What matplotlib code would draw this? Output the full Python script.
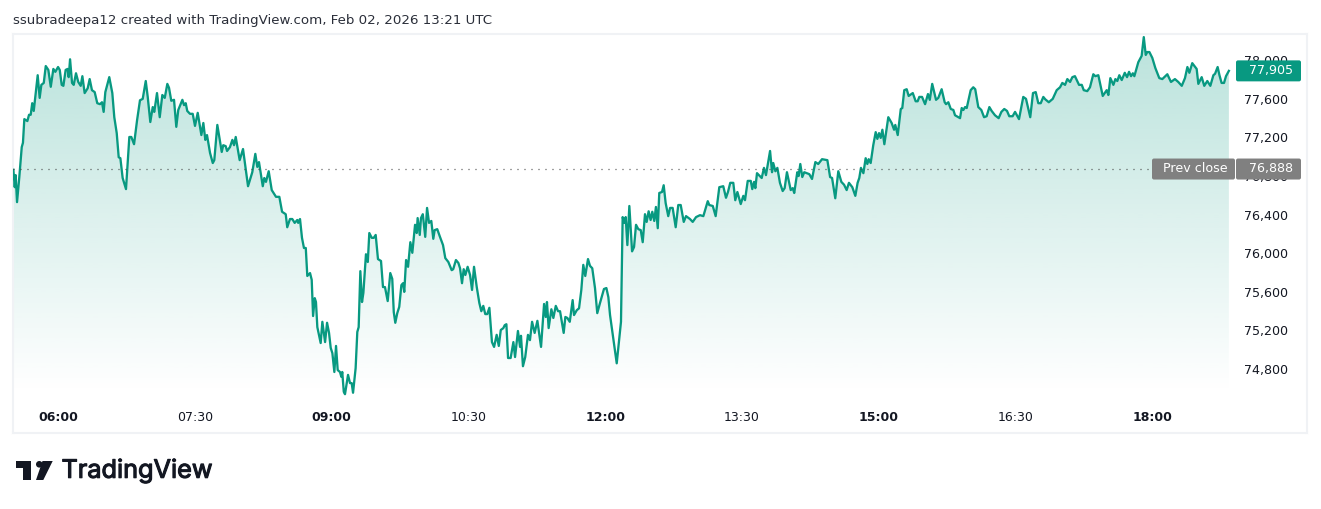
"""
Intraday area chart with a previous close marker, TradingView style.
"""

import numpy as np
import matplotlib
matplotlib.use("Agg")
import matplotlib.pyplot as plt
import matplotlib.patheffects as pe
from matplotlib.patches import FancyBboxPatch, Polygon, Circle
from matplotlib.transforms import ScaledTranslation

# (minutes since midnight, price)
quotes_open = [
    (330.6,76880),(331.5,76700),(332.1,76825),(333,76545),(334.5,76805),(336.1,77115),(336.9,77160),(337.8,77405),
    (339.8,77385),(340.9,77450),(342,77450),(343,77570),(344,77490),(345.3,77675),(346.6,77860),(347.9,77625),
    (349,77760),(350.6,77780),(351.9,77955),(353.6,77915),(355.2,77740),(356.9,77925),(358.2,77895),(360,77945),
    (361.1,77915),(362.4,77760),(363.5,77750),(365,77915),(366.3,77925),(367,77840),(367.9,78025),(369.2,77780),
    (370.3,77760),(371.8,77880),(373.3,77790),(374.9,77750),(376,77850),(377.5,77675),(379.5,77725),(380.8,77820),
    (382.3,77705),(384.1,77685),(385.8,77570),(387.6,77560),(388.9,77580),(390,77480),(391.1,77685),(393.7,77840),
    (395.7,77675),(397,77425),(398.6,77260),(399.9,77010),(401,77000),(402.5,76795),(404.7,76680),(406.9,77220),
    (408.2,77220),(410,77145),(412,77395),(413.9,77600),(415.7,77615),(417.7,77800),(419,77635),(420.7,77375),
    (422.3,77530),(423.3,77480),(425.1,77675),(426.9,77425),(428.6,77655),(430.2,77625),(431.9,77770),(433,77730),
    (434.5,77595),(436.3,77605),(437.8,77325),(439.1,77500),(441.8,77605),(442.9,77550),(444,77570),(445,77490),
    (446.8,77460),(448.6,77460),(450.1,77335),(451.9,77470),(454.3,77240),(455.6,77365),(456.9,77190),(458,77240),
    (460,77055),(461.8,76950),(462.8,76980),(464.8,77345),(467.7,77065),(468.7,77135),(470.3,77125),(471.2,77075),
    (473.1,77115),(474.7,77190),(475.8,77135),(476.9,77220),(479.5,76980),(481.7,77095),(485,76710),(487.8,76855),
    (489.8,77045),(491.1,76910),(492.2,76960),(494.7,76710),(495.7,76795),(496.8,76755),(498.6,76865),(500.6,76670),
    (503.4,76600),(505.6,76600),(507.4,76445),(509.8,76420),(510.8,76285),(512.6,76370),(514.1,76370),(515.7,76330),
    (517.4,76360),(518,76330),(519.2,76370),(520.5,76175),(521.8,76070),(523,76070),(524,75780),(525.8,75810),
    (526.9,75740),(527.8,75365),(528.9,75550),(529.7,75510),(530.6,75250),(532.8,75085),(533.9,75305),(535.7,75095),
    (537,75295),(538.3,75190),(539.4,75035),(540.5,74980),(541.8,74785),(542.9,75055),(544,74805),(545.5,74785),
    (546.4,74735),(547,74785),(548,74580),(548.8,74555),(550.8,74755),(552.1,74670),(553.2,74670),(554.1,74570),
]

quotes_rebound = [
    (555.8,74825),(556.9,75200),(557.8,75250),(558.9,75830),(560,75510),(560.9,75605),(562.6,76005),(563.8,75925),
    (564.8,76225),(566.4,76175),(567.7,76175),(569,76205),(570.5,75955),(572.5,75935),(573.8,75665),(575.1,75665),
    (576.9,75520),(578.6,75810),(579.9,75750),(580.9,75405),(581.9,75295),(583.2,75395),(584.5,75460),(585.9,75685),
    (587,75705),(587.8,75615),(589,75945),(590.3,75875),(591.8,76130),(593.1,76020),(594.9,76310),(596,76225),
    (596.6,76380),(598,76205),(598.8,76380),(600,76420),(601.6,76185),(602.8,76485),(604.1,76330),(605.6,76350),
    (606.9,76165),(607.8,76255),(609.5,76265),(611.3,76185),(613.3,76100),(614.8,75965),(616.8,75925),(619,75840),
    (620,75850),(621.8,75945),(623.4,75915),(624.5,75860),(625.8,75705),(626.9,75850),(628,75790),(629.5,75875),
    (631.1,75790),(632.4,75635),(633.7,75875),(635.5,75665),(637.2,75500),(638.5,75415),(639.8,75470),(641.1,75385),
    (642.4,75385),(643.8,75450),(645.5,75095),(646.9,75045),(648.6,75170),(650,75055),(651.3,75220),(653,75240),
    (653.9,75270),(655,75280),(656.1,74930),(657.8,74930),(659.6,75095),(660.7,74940),(662.6,75210),(664,75045),
    (664.6,75160),(665.9,74845),(667.4,74940),(669.2,75170),(670.5,75115),(671.9,75305),(673.6,75190),(675.4,75315),
    (677.8,75045),(679.8,75490),(680.9,75355),(681.7,75510),(682.8,75240),(684.6,75435),(685.9,75345),(687.5,75470),
    (689,75415),(690.3,75415),(692.7,75190),(693.8,75355),(695.1,75345),(696.7,75305),(698.6,75530),(699.5,75375),
    (701.3,75425),(702.8,75445),(704.3,75635),(705.6,75895),(706.9,75780),(708.7,75955),(710,75885),(711.5,75860),
    (713.3,75655),(714.8,75395),(716.6,75500),(719.2,75645),(720.8,75655),(722.1,75560),(723.2,75375),(727.6,74875),
    (730.4,75305),
]

quotes_midday = [
    (731.5,76390),(732.6,76330),(733.5,76390),(734.6,76100),(735.9,76505),(737.7,76035),(739,76080),(740.3,76310),
    (741.8,76265),(743.4,76255),(744.7,76130),(746.2,76420),(747.3,76340),(748.6,76450),(749.9,76360),(751,76445),
    (752.3,76350),(753.4,76495),(754.6,76275),(755.6,76640),(757.4,76650),(758.5,76720),(759.8,76535),(761.5,76400),
    (762.7,76485),(764.4,76485),(766.4,76285),(768.1,76515),(769.7,76515),(771.7,76340),(773.2,76400),(775.8,76370),
    (777.6,76340),(779.8,76390),(782.4,76410),(784.6,76400),(787.5,76555),(788.5,76515),(790.8,76505),(792.7,76400),
    (795.1,76700),(797.7,76710),(799.5,76590),(800.8,76650),(802.3,76745),(804.3,76745),(805.6,76565),(807,76650),
    (809.2,76525),(810.9,76610),(812,76565),(813.8,76765),(815.8,76765),(816.8,76680),(818,76755),(818.8,76690),
    (819.9,76845),(823,76795),(824.5,76900),(825.8,76825),(828.5,77075),(829.8,76855),(830.6,76950),(832,76865),
    (833.3,76900),(835,76745),(836.8,76660),(838.1,76690),(839.6,76855),(842.1,76670),(843.4,76690),(844.4,76640),
    (846.4,76855),(847.3,76815),(848.4,76940),(849.7,76805),(851,76855),(854.3,76835),(856.1,76785),(858.3,76960),
    (860.2,76940),(862.7,76990),(866.2,76980),(868,76805),(869.3,76795),(871.4,76585),(873.4,76865),(875.4,76755),
    (877.2,76725),(878.9,76670),(880.4,76745),(882.6,76700),(884.6,76610),(886.1,76745),(887.2,76795),
]

quotes_close = [
    (888.3,76900),(889.9,76845),(891.4,77000),(892.5,76940),(893.4,76990),(894.7,76950),(896.4,77135),(898,77270),
    (899.1,77200),(900.2,77260),(901.3,77210),(902.4,77295),(903.7,77145),(906.3,77425),(908.5,77365),(910.1,77295),
    (910.9,77345),(912.5,77240),(914.5,77510),(915.5,77520),(916.8,77705),(918.4,77715),(919.7,77645),(922.4,77675),
    (924.3,77590),(925.6,77590),(926.7,77635),(928.5,77635),(930.5,77560),(932.4,77665),(933.6,77605),(935.2,77770),
    (937.7,77605),(939.2,77625),(941.4,77715),(943.4,77580),(944.3,77560),(945.8,77580),(947.4,77510),(949.1,77500),
    (950.2,77445),(953.5,77415),(954.6,77520),(955.7,77500),(956.8,77530),(957.9,77520),(960.5,77705),(962.2,77735),
    (963.5,77715),(965.5,77530),(967.5,77500),(969.3,77425),(971,77435),(972.8,77530),(974.3,77490),(976.5,77445),
    (978.9,77415),(980.7,77480),(982.6,77510),(984.4,77490),(985.9,77435),(988.1,77435),(989.7,77480),(992.3,77405),
    (995.1,77635),(996.9,77615),(999.7,77425),(1001.5,77675),(1003.3,77685),(1005,77570),(1006.6,77570),(1008.3,77635),
    (1009.6,77610),(1011.9,77580),(1014.5,77615),(1017.1,77705),(1019.3,77735),(1020.8,77780),(1022.6,77760),(1024.1,77820),
    (1025.9,77790),(1027.4,77840),(1029.1,77850),(1031.8,77760),(1033.6,77760),(1034.9,77705),(1037.2,77695),(1039,77735),
    (1041.2,77870),(1042.5,77850),(1044.5,77860),(1047.4,77645),(1050,77705),(1051.1,77655),(1052.4,77830),(1054.4,77760),
    (1055.7,77820),(1057,77800),(1058.3,77860),(1059.9,77810),(1061.9,77885),(1063.4,77840),(1064.7,77895),(1066,77850),
    (1067.2,77880),(1068.2,77850),(1070.8,77995),(1073,78060),(1074.4,78255),(1075.7,78070),(1076.7,78100),(1078.1,78100),
    (1080,78040),(1082,77935),(1084.6,77830),(1086.6,77820),(1089.9,77870),(1092.3,77790),(1094.9,77820),(1097.1,77790),
    (1099.4,77750),(1101.5,77830),(1103.1,77945),(1104.4,77885),(1106.3,77985),(1109.2,77925),(1110.3,77770),(1112.5,77840),
    (1114.2,77750),(1116.2,77800),(1118.2,77750),(1120.2,77860),(1121.3,77875),(1123,77945),(1124.2,77860),(1125.6,77780),
    (1127.2,77780),(1128.5,77850),(1130.4,77905),
]

prev_close = 76888
last_price = 77905

x_ticks = [360, 450, 540, 630, 720, 810, 900, 990, 1080]
x_labels = ["06:00", "07:30", "09:00", "10:30", "12:00", "13:30", "15:00", "16:30", "18:00"]
x_major = ["06:00", "09:00", "12:00", "15:00", "18:00"]
y_ticks = [74800, 75200, 75600, 76000, 76400, 76800, 77200, 77600, 78000]

GREEN = "#089981"
GREY = "#808080"
INK = "#131722"
W, H = 1321, 509


def to_px_y(ax, value):
    """Return the height of a price in top-down figure pixels."""
    return H - ax.transData.transform((0, value))[1]


def main():
    quotes = quotes_open + quotes_rebound + quotes_midday + quotes_close
    times = np.array([q[0] for q in quotes])
    prices = np.array([q[1] for q in quotes])

    plt.rcParams["font.family"] = "DejaVu Sans"
    fig = plt.figure(figsize=(W / 100, H / 100), dpi=100, facecolor="white")

    # panel goes from x=13 to 1307 and y=34 to 433 in pixels
    ax = fig.add_axes([13 / W, 1 - 433 / H, 1294 / W, 399 / H])
    for spine in ax.spines.values():
        spine.set_color("#f0f2f5")
        spine.set_linewidth(1.5)

    # area under the line fading out to the bottom
    gradient = np.zeros((256, 1, 4))
    gradient[..., :3] = matplotlib.colors.to_rgb(GREEN)
    gradient[..., 3] = np.linspace(0.28, 0.0, 256)[:, None]
    low = prices.min()
    im = ax.imshow(gradient, extent=[times[0], times[-1], low, prices.max()],
                   aspect="auto", origin="upper", zorder=1, interpolation="bilinear")
    outline = np.column_stack([np.r_[times, times[-1], times[0]], np.r_[prices, low, low]])
    clip = Polygon(outline, closed=True, transform=ax.transData, facecolor="none", edgecolor="none")
    ax.add_patch(clip)
    im.set_clip_path(clip)
    ax.set_xlim(330.35, 1181.8)
    ax.set_ylim(74153, 78287)

    ax.plot(times, prices, color=GREEN, lw=1.65, solid_joinstyle="round", zorder=3)

    # dotted previous close
    ax.plot([330.35, 1080], [prev_close, prev_close], color="#444444", lw=0.9,
            dashes=(0.8, 4.8), zorder=4)

    ax.set_xticks(x_ticks)
    ax.set_xticklabels(x_labels)
    ax.tick_params(axis="x", length=0, pad=-15.5, labelsize=9, labelcolor=INK)
    for lab in ax.get_xticklabels():
        if lab.get_text() in x_major:
            lab.set_fontweight("bold")

    ax.yaxis.tick_right()
    ax.set_yticks(y_ticks)
    ax.set_yticklabels([f"{v:,}" for v in y_ticks])
    ax.tick_params(axis="y", length=0, pad=-14, labelsize=9.1, labelcolor=INK)
    # labels sit a little above their price
    nudge = ScaledTranslation(0, 1.5 / 100, fig.dpi_scale_trans)
    for lab in ax.get_yticklabels():
        lab.set_ha("right")
        lab.set_transform(lab.get_transform() + nudge)

    # overlay in pixels for the badges, header and logo
    over = fig.add_axes([0, 0, 1, 1], facecolor="none", zorder=10)
    over.set_xlim(0, W)
    over.set_ylim(H, 0)
    over.axis("off")

    def badge(x0, x1, yc, color, text, ha_x):
        box = FancyBboxPatch((x0 + 1.5, yc - 9), x1 - x0 - 3, 18, boxstyle="round,pad=1.5,rounding_size=2",
                             facecolor=color, edgecolor="none")
        over.add_patch(box)
        over.text(ha_x, yc - 0.5, text, color="white", fontsize=9.1, ha="right", va="center")

    y_last = to_px_y(ax, last_price)
    y_prev = to_px_y(ax, prev_close)
    badge(1236, 1301, y_last, GREEN, f"{last_price:,}", 1293)
    badge(1152, 1235, y_prev, GREY, "Prev close", 1228)
    badge(1236, 1301, y_prev, GREY, f"{prev_close:,}", 1293)

    over.text(13, 20, "ssubradeepa12 created with TradingView.com, Feb 02, 2026 13:21 UTC",
              color="#2a2e39", fontsize=9.6, ha="left", va="center")

    # logo mark
    over.add_patch(Polygon([(15.7, 461), (30.7, 461), (30.7, 480), (22.7, 480), (22.7, 467.5), (15.7, 467.5)],
                           closed=True, facecolor=INK, edgecolor="none"))
    over.add_patch(Circle((39.3, 464.3), 3.3, facecolor=INK, edgecolor="none"))
    over.add_patch(Polygon([(42.5, 461), (52.7, 461), (43.3, 480), (36, 480)],
                           closed=True, facecolor=INK, edgecolor="none"))
    over.text(61.5, 471, "TradingView", color=INK, fontsize=18.2, family="Inter", ha="left", va="center",
              path_effects=[pe.withStroke(linewidth=0.8, foreground=INK)])

    fig.savefig("out.png", dpi=100, facecolor="white")


if __name__ == "__main__":
    main()
